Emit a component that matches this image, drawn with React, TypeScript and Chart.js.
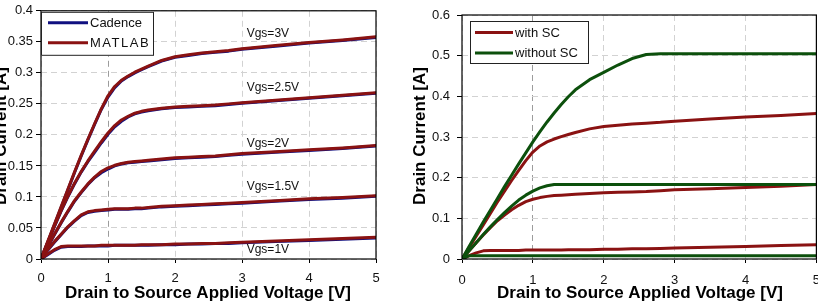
import React, { useEffect, useRef } from 'react';
import { Chart, registerables } from 'chart.js';

Chart.register(...registerables);

const FONT = 'Arial, "Liberation Sans", Helvetica, sans-serif';

// ---------- data ----------
const vds = [0, 0.1, 0.2, 0.3, 0.4, 0.5, 0.6, 0.7, 0.8, 0.9, 1.0, 1.1, 1.2, 1.3, 1.4, 1.5, 1.6, 1.8, 2.0, 2.2, 2.4, 2.6, 2.8, 3.0, 3.5, 4.0, 4.5, 5.0];

const matlabVgs3 = [0, 0.028, 0.056, 0.084, 0.112, 0.14, 0.167, 0.193, 0.218, 0.242, 0.263, 0.278, 0.288, 0.295, 0.301, 0.306, 0.311, 0.32, 0.326, 0.329, 0.332, 0.334, 0.336, 0.339, 0.344, 0.349, 0.353, 0.358];
const matlabVgs25 = [0, 0.027, 0.053, 0.078, 0.101, 0.122, 0.141, 0.158, 0.174, 0.189, 0.203, 0.215, 0.224, 0.23, 0.235, 0.238, 0.24, 0.243, 0.245, 0.246, 0.247, 0.248, 0.25, 0.252, 0.256, 0.26, 0.264, 0.268];
const matlabVgs2 = [0, 0.02, 0.04, 0.059, 0.077, 0.094, 0.108, 0.121, 0.132, 0.141, 0.147, 0.151, 0.154, 0.156, 0.157, 0.158, 0.159, 0.161, 0.163, 0.164, 0.165, 0.166, 0.168, 0.17, 0.173, 0.176, 0.179, 0.183];
const matlabVgs15 = [0, 0.015, 0.028, 0.04, 0.052, 0.062, 0.071, 0.076, 0.078, 0.079, 0.08, 0.081, 0.081, 0.081, 0.082, 0.082, 0.083, 0.085, 0.086, 0.087, 0.088, 0.089, 0.09, 0.091, 0.094, 0.097, 0.099, 0.102];
const matlabVgs1 = [0, 0.008, 0.015, 0.02, 0.021, 0.021, 0.021, 0.021, 0.021, 0.022, 0.022, 0.022, 0.022, 0.022, 0.022, 0.023, 0.023, 0.023, 0.024, 0.024, 0.025, 0.025, 0.026, 0.027, 0.029, 0.031, 0.033, 0.035];

const cadenceVgs3 = [0, 0.027, 0.055, 0.083, 0.111, 0.139, 0.166, 0.192, 0.217, 0.241, 0.261, 0.276, 0.287, 0.294, 0.3, 0.305, 0.31, 0.319, 0.325, 0.328, 0.331, 0.333, 0.335, 0.338, 0.343, 0.348, 0.352, 0.357];
const cadenceVgs25 = [0, 0.026, 0.052, 0.077, 0.1, 0.121, 0.14, 0.157, 0.172, 0.187, 0.201, 0.213, 0.222, 0.229, 0.234, 0.237, 0.239, 0.242, 0.244, 0.245, 0.246, 0.247, 0.249, 0.251, 0.255, 0.259, 0.263, 0.267];
const cadenceVgs2 = [0, 0.019, 0.039, 0.058, 0.076, 0.093, 0.107, 0.12, 0.131, 0.139, 0.145, 0.15, 0.153, 0.155, 0.156, 0.157, 0.158, 0.16, 0.162, 0.163, 0.164, 0.165, 0.167, 0.169, 0.172, 0.175, 0.178, 0.182];
const cadenceVgs15 = [0, 0.014, 0.027, 0.039, 0.051, 0.061, 0.07, 0.075, 0.077, 0.078, 0.079, 0.08, 0.08, 0.08, 0.081, 0.081, 0.082, 0.084, 0.085, 0.086, 0.087, 0.088, 0.089, 0.09, 0.093, 0.096, 0.098, 0.101];
const cadenceVgs1 = [0, 0.007, 0.014, 0.019, 0.02, 0.02, 0.02, 0.021, 0.021, 0.021, 0.021, 0.022, 0.022, 0.022, 0.022, 0.022, 0.022, 0.023, 0.023, 0.024, 0.024, 0.025, 0.025, 0.026, 0.028, 0.03, 0.032, 0.034];

const withScHigh = matlabVgs3;
const withScMid = matlabVgs2;
const withScLow = matlabVgs1;
const withoutScHigh = [0, 0.031, 0.061, 0.091, 0.12, 0.149, 0.178, 0.206, 0.234, 0.261, 0.288, 0.313, 0.337, 0.359, 0.38, 0.399, 0.416, 0.441, 0.459, 0.477, 0.493, 0.503, 0.505, 0.505, 0.505, 0.505, 0.505, 0.505];
const withoutScMid = [0, 0.02, 0.04, 0.06, 0.079, 0.097, 0.114, 0.13, 0.145, 0.157, 0.167, 0.175, 0.18, 0.183, 0.183, 0.183, 0.183, 0.183, 0.183, 0.183, 0.183, 0.183, 0.183, 0.183, 0.183, 0.183, 0.183, 0.183];
const withoutScLow = [0, 0.008, 0.008, 0.008, 0.008, 0.008, 0.008, 0.008, 0.008, 0.008, 0.008, 0.008, 0.008, 0.008, 0.008, 0.008, 0.008, 0.008, 0.008, 0.008, 0.008, 0.008, 0.008, 0.008, 0.008, 0.008, 0.008, 0.008];

const vgsLabels = ['Vgs=3V', 'Vgs=2.5V', 'Vgs=2V', 'Vgs=1.5V', 'Vgs=1V'];
const vgsLabelX = [3.07, 3.07, 3.07, 3.07, 3.07];
const vgsLabelY = [0.3635, 0.276, 0.186, 0.116, 0.0143];

const leftLegend = ['Cadence', 'MATLAB'];
const rightLegend = ['with SC', 'without SC'];

const xTitle = 'Drain to Source Applied Voltage [V]';
const yTitle = 'Drain Current [A]';

const RED = '#8a1212';
const BLUE = '#101080';
const GREEN = '#0c500c';

const pts = (ys: number[]) => vds.map((x, i) => ({ x, y: ys[i] }));

const lineDs = (label: string, ys: number[], color: string, width = 3) => ({
  label,
  data: pts(ys),
  borderColor: color,
  backgroundColor: color,
  borderWidth: width,
  pointRadius: 0,
  tension: 0,
  fill: false,
  borderCapStyle: 'round' as const,
  borderJoinStyle: 'round' as const,
});

const fmt = (v: number) => String(+Number(v).toFixed(2));

function scales(yMax: number, yStep: number, yWidth: number, yPad: number, xPad: number) {
  const gridColor = (ctx: any) => (ctx.tick && ctx.tick.value === 1 ? '#9c9c9c' : '#d2d2d2');
  return {
    x: {
      type: 'linear' as const,
      min: 0,
      max: 5,
      ticks: { stepSize: 1, color: '#111', font: { family: FONT, size: 13 }, padding: xPad, callback: (v: any) => fmt(v) },
      grid: { color: gridColor, lineWidth: 1, tickLength: 4, tickColor: '#000', tickBorderDash: [], tickWidth: 1 },
      border: { display: false, dash: [6, 4] },
      afterFit: (s: any) => { s.height = 47; },
    },
    y: {
      type: 'linear' as const,
      min: 0,
      max: yMax,
      ticks: { stepSize: yStep, color: '#111', font: { family: FONT, size: 13 }, padding: yPad, callback: (v: any) => fmt(v) },
      grid: { color: '#d2d2d2', lineWidth: 1, tickLength: 5, tickColor: '#000', tickBorderDash: [], tickWidth: 1 },
      border: { display: false, dash: [6, 4] },
      afterFit: (s: any) => { s.width = yWidth; },
    },
  };
}

function drawTitles(chart: any, yTitleX: number, xCenter: number) {
  const ctx = chart.ctx;
  ctx.save();
  ctx.fillStyle = '#000';
  ctx.font = `bold 17px ${FONT}`;
  ctx.textAlign = 'center';
  ctx.textBaseline = 'alphabetic';
  ctx.fillText(xTitle, xCenter, 298);
  ctx.translate(yTitleX, 136);
  ctx.rotate(-Math.PI / 2);
  ctx.fillText(yTitle, 0, 0);
  ctx.restore();
}

function drawFrame(chart: any) {
  const { ctx, chartArea: a } = chart;
  ctx.save();
  ctx.strokeStyle = '#000';
  ctx.lineWidth = 1.2;
  ctx.setLineDash([]);
  ctx.strokeRect(a.left, a.top, a.right - a.left, a.bottom - a.top);
  ctx.restore();
}

function drawLegend(chart: any, box: { x: number; y: number; w: number; h: number }, items: { label: string; color: string; spacing: string }[], lineLen: number, rowY: number[], lineX: number) {
  const ctx = chart.ctx;
  ctx.save();
  ctx.fillStyle = '#fff';
  ctx.fillRect(box.x, box.y, box.w, box.h);
  ctx.strokeStyle = '#222';
  ctx.lineWidth = 1;
  ctx.strokeRect(box.x + 0.5, box.y + 0.5, box.w - 1, box.h - 1);
  items.forEach((it, i) => {
    const y = box.y + rowY[i];
    ctx.strokeStyle = it.color;
    ctx.lineWidth = 3;
    ctx.beginPath();
    ctx.moveTo(box.x + lineX, y);
    ctx.lineTo(box.x + lineX + lineLen, y);
    ctx.stroke();
    ctx.fillStyle = '#111';
    ctx.font = `13px ${FONT}`;
    ctx.textAlign = 'left';
    ctx.textBaseline = 'middle';
    (ctx as any).letterSpacing = it.spacing;
    ctx.fillText(it.label, box.x + lineX + lineLen + 2, y + 0.5);
    (ctx as any).letterSpacing = '0px';
  });
  ctx.restore();
}

function LeftChart() {
  const ref = useRef<HTMLCanvasElement | null>(null);
  useEffect(() => {
    const canvas = ref.current!;
    const decor = {
      id: 'leftDecor',
      afterDatasetsDraw(chart: any) {
        drawFrame(chart);
        const ctx = chart.ctx;
        const xs = chart.scales.x;
        const ys = chart.scales.y;
        ctx.save();
        ctx.fillStyle = '#111';
        ctx.font = `12px ${FONT}`;
        ctx.textAlign = 'left';
        ctx.textBaseline = 'middle';
        vgsLabels.forEach((t, i) => {
          ctx.fillText(t, xs.getPixelForValue(vgsLabelX[i]), ys.getPixelForValue(vgsLabelY[i]));
        });
        ctx.restore();
        const a = chart.chartArea;
        drawLegend(chart, { x: a.left, y: a.top + 1, w: 113, h: 44 },
          [{ label: leftLegend[0], color: BLUE, spacing: '0px' }, { label: leftLegend[1], color: RED, spacing: '1.5px' }],
          40, [11, 31], 7);
      },
      afterDraw(chart: any) {
        drawTitles(chart, 6, 208);
      },
    };
    const chart = new Chart(canvas, {
      type: 'line',
      data: {
        datasets: [
          lineDs('MATLAB Vgs=3V', matlabVgs3, RED),
          lineDs('MATLAB Vgs=2.5V', matlabVgs25, RED),
          lineDs('MATLAB Vgs=2V', matlabVgs2, RED),
          lineDs('MATLAB Vgs=1.5V', matlabVgs15, RED),
          lineDs('MATLAB Vgs=1V', matlabVgs1, RED),
          lineDs('Cadence Vgs=3V', cadenceVgs3, BLUE),
          lineDs('Cadence Vgs=2.5V', cadenceVgs25, BLUE),
          lineDs('Cadence Vgs=2V', cadenceVgs2, BLUE),
          lineDs('Cadence Vgs=1.5V', cadenceVgs15, BLUE),
          lineDs('Cadence Vgs=1V', cadenceVgs1, BLUE),
        ],
      },
      options: {
        responsive: false,
        animation: false,
        devicePixelRatio: 1,
        layout: { padding: { top: 7, right: 34, left: 0, bottom: 0 } },
        plugins: { legend: { display: false }, tooltip: { enabled: false } },
        scales: scales(0.4, 0.05, 41, 3, 8) as any,
      },
      plugins: [decor],
    });
    return () => chart.destroy();
  }, []);
  return <canvas ref={ref} width={410} height={306} style={{ position: 'absolute', left: 0, top: 0 }} />;
}

function RightChart() {
  const ref = useRef<HTMLCanvasElement | null>(null);
  useEffect(() => {
    const canvas = ref.current!;
    const decor = {
      id: 'rightDecor',
      afterDatasetsDraw(chart: any) {
        drawFrame(chart);
        const a = chart.chartArea;
        drawLegend(chart, { x: a.left + 8, y: a.top + 6, w: 119, h: 43 },
          [{ label: rightLegend[0], color: RED, spacing: '0px' }, { label: rightLegend[1], color: GREEN, spacing: '0px' }],
          38, [11.5, 32], 5);
      },
      afterDraw(chart: any) {
        drawTitles(chart, 15, 230);
      },
    };
    const chart = new Chart(canvas, {
      type: 'line',
      data: {
        datasets: [
          lineDs('without SC high', withoutScHigh, GREEN),
          lineDs('without SC mid', withoutScMid, GREEN),
          lineDs('without SC low', withoutScLow, GREEN),
          lineDs('with SC high', withScHigh, RED),
          lineDs('with SC mid', withScMid, RED),
          lineDs('with SC low', withScLow, RED),
        ],
      },
      options: {
        responsive: false,
        animation: false,
        devicePixelRatio: 1,
        layout: { padding: { top: 15, right: 13, left: 0, bottom: 0 } },
        plugins: { legend: { display: false }, tooltip: { enabled: false } },
        scales: scales(0.6, 0.1, 52, 7, 10) as any,
      },
      plugins: [decor],
    });
    return () => chart.destroy();
  }, []);
  return <canvas ref={ref} width={420} height={306} style={{ position: 'absolute', left: 410, top: 0 }} />;
}

export default function App() {
  return (
    <div style={{ position: 'absolute', left: 0, top: 0, width: 818, height: 306, overflow: 'hidden', background: '#fff' }}>
      <LeftChart />
      <RightChart />
    </div>
  );
}
